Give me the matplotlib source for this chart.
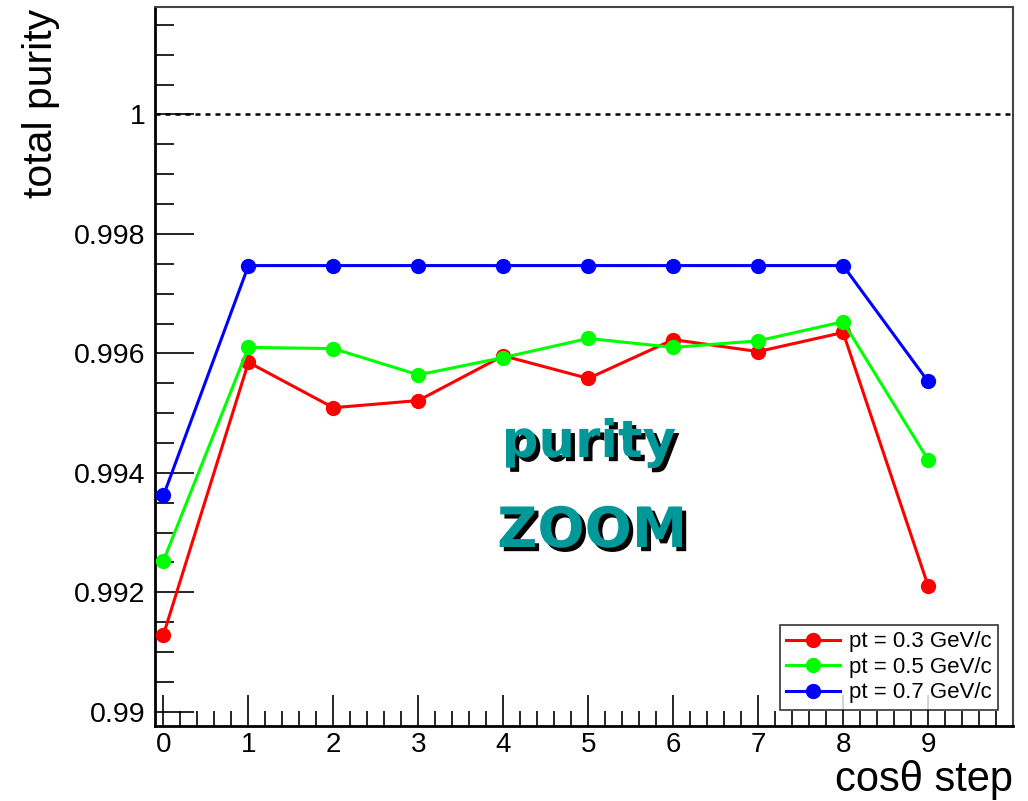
import matplotlib
matplotlib.use("Agg")
import matplotlib.pyplot as plt
from matplotlib.ticker import MultipleLocator, FixedLocator
import matplotlib.patheffects as pe

steps = [0, 1, 2, 3, 4, 5, 6, 7, 8, 9]
purity_pt03 = [0.99129, 0.99585, 0.99509, 0.99521, 0.99596, 0.99558, 0.99623, 0.99603, 0.99635, 0.99211]
purity_pt05 = [0.99253, 0.99610, 0.99608, 0.99564, 0.99593, 0.99625, 0.99610, 0.99621, 0.99653, 0.99422]
purity_pt07 = [0.99362, 0.99747, 0.99747, 0.99747, 0.99747, 0.99747, 0.99747, 0.99747, 0.99747, 0.99553]
labels = ["pt = 0.3 GeV/c", "pt = 0.5 GeV/c", "pt = 0.7 GeV/c"]
colors = ["#ff0000", "#00ff00", "#0000ff"]
y_ticks = [0.99, 0.992, 0.994, 0.996, 0.998, 1.0]
y_ticklabels = ["0.99", "0.992", "0.994", "0.996", "0.998", "1"]

plt.rcParams['font.family'] = ['Liberation Sans', 'DejaVu Sans']

fig = plt.figure(figsize=(10.28, 8.01), dpi=100)
ax = fig.add_axes([155/1028, 1-726/801, (1013-155)/1028, (726-7)/801])

for data, lab, c in zip([purity_pt03, purity_pt05, purity_pt07], labels, colors):
    ax.plot(steps, data, '-o', color=c, lw=2.2, ms=10, label=lab, clip_on=False, zorder=3)

ax.axhline(1.0, color='black', ls=(0, (2, 2)), lw=1.8)

ax.set_xlim(-0.1, 10.0)
ax.set_ylim(0.98976, 1.0018)

ax.xaxis.set_minor_locator(MultipleLocator(0.2))
ax.set_xticks(range(0, 10))
ax.yaxis.set_major_locator(FixedLocator(y_ticks))
ax.set_yticklabels(y_ticklabels)
ax.yaxis.set_minor_locator(MultipleLocator(0.0005))

ax.tick_params(axis='both', which='both', direction='in', top=False, right=False)
ax.tick_params(axis='x', which='major', length=22, width=1.2, labelsize=20, pad=4)
ax.tick_params(axis='x', which='minor', length=11, width=1.2)
ax.tick_params(axis='y', which='major', length=28, width=1.2, labelsize=20.5, pad=7)
ax.tick_params(axis='y', which='minor', length=14, width=1.2)

for s in ['left', 'bottom']:
    ax.spines[s].set_linewidth(2.0)
for s in ['top', 'right']:
    ax.spines[s].set_linewidth(1.5)
    ax.spines[s].set_color('#444444')

fig.text(41/1028, 1-9/801, "total purity", rotation=90, ha='center', va='top', fontsize=29.5)
fig.text(1013/1028, 1-791/801, "cos\u03b8 step", ha='right', va='baseline', fontsize=30)

teal = "#009898"
fx = [pe.SimplePatchShadow(offset=(3, -3), shadow_rgbFace='black', alpha=1.0), pe.Normal()]
fig.text(589/1028, 1-443/801, "purity", ha='center', va='center', fontsize=37,
         fontweight='bold', color=teal, family=['DejaVu Sans'], path_effects=fx)
fig.text(592/1028, 1-532/801, "ZOOM", ha='center', va='center', fontsize=40,
         fontweight='bold', color=teal, family=['DejaVu Sans'], path_effects=fx)

leg = ax.legend(loc='lower right', bbox_to_anchor=((998-155)/858, (726-710)/719), fontsize=16,
                frameon=True, fancybox=False, edgecolor='black', borderpad=0.3,
                handlelength=2.4, handletextpad=0.4, labelspacing=0.2, borderaxespad=0)
leg.get_frame().set_linewidth(1.2)

fig.savefig("out.png", dpi=100)
